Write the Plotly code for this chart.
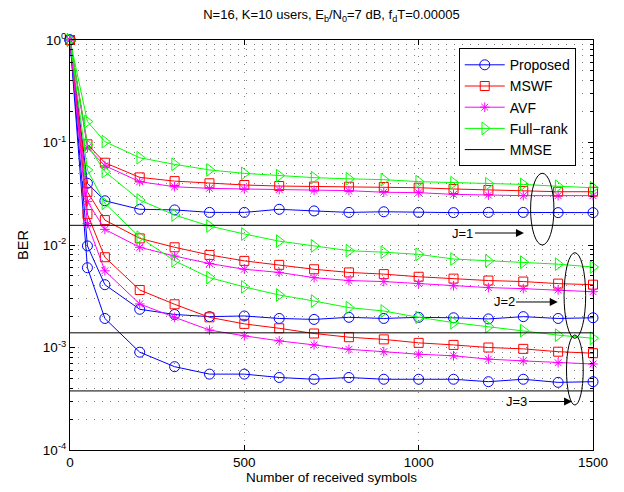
import plotly.graph_objects as go

x = [0, 50, 100, 200, 300, 400, 500, 600, 700, 800, 900, 1000, 1100, 1200, 1300, 1400, 1500]

# J = 1
prop1 = [1.0, 0.040, 0.027, 0.0223, 0.022, 0.0208, 0.0208, 0.0223, 0.0215, 0.0208, 0.0211, 0.0208, 0.0207, 0.0208, 0.0208, 0.0207, 0.0207]
mswf1 = [1.0, 0.096, 0.0635, 0.0457, 0.042, 0.040, 0.0385, 0.0376, 0.0372, 0.037, 0.0368, 0.0362, 0.0352, 0.0344, 0.0336, 0.0331, 0.0331]
avf1 = [1.0, 0.089, 0.0594, 0.0415, 0.037, 0.0357, 0.0352, 0.0347, 0.0341, 0.0339, 0.0327, 0.0324, 0.0312, 0.0307, 0.0303, 0.0303, 0.0303]
fr1 = [1.0, 0.16, 0.102, 0.071, 0.0612, 0.054, 0.050, 0.0475, 0.0454, 0.0442, 0.0434, 0.0415, 0.0405, 0.0396, 0.039, 0.0374, 0.0362]

# J = 2
prop2 = [1.0, 0.0098, 0.0041, 0.00236, 0.0021, 0.0020, 0.00203, 0.00192, 0.00188, 0.00197, 0.00192, 0.00197, 0.00195, 0.0019, 0.0020, 0.00192, 0.00195]
mswf2 = [1.0, 0.033, 0.0175, 0.0116, 0.0095, 0.008, 0.0070, 0.0064, 0.0058, 0.0054, 0.0052, 0.0049, 0.0047, 0.0045, 0.0044, 0.0042, 0.0041]
avf2 = [1.0, 0.0265, 0.0142, 0.0095, 0.0078, 0.0066, 0.0058, 0.0054, 0.0048, 0.0045, 0.0044, 0.0042, 0.0040, 0.00384, 0.00375, 0.00364, 0.0035]
fr2 = [1.0, 0.095, 0.052, 0.0275, 0.0196, 0.0153, 0.0128, 0.0109, 0.0098, 0.0088, 0.0085, 0.0081, 0.0073, 0.0070, 0.0068, 0.0065, 0.0061]

# J = 3
prop3 = [1.0, 0.006, 0.00192, 0.0009, 0.00065, 0.00055, 0.00055, 0.00051, 0.00049, 0.00051, 0.00049, 0.00049, 0.00049, 0.000464, 0.00049, 0.000457, 0.000464]
mswf3 = [1.0, 0.020, 0.0076, 0.00364, 0.00264, 0.00197, 0.0017, 0.00154, 0.00137, 0.00126, 0.0012, 0.00111, 0.00106, 0.0010, 0.00097, 0.00091, 0.00088]
avf3 = [1.0, 0.0162, 0.0056, 0.00266, 0.00197, 0.00148, 0.0013, 0.00116, 0.00106, 0.00096, 0.00091, 0.00086, 0.00083, 0.00077, 0.00074, 0.00071, 0.00069]
fr3 = [1.0, 0.054, 0.0255, 0.0119, 0.0070, 0.0048, 0.0039, 0.00325, 0.00284, 0.00245, 0.00227, 0.00197, 0.00175, 0.0016, 0.00146, 0.00132, 0.00123]

mmse = [0.01556, 0.00139, 0.000377]
mmse_x = [0, 1500]

x_ticks = [0, 500, 1000, 1500]
y_ticks = [1e-4, 1e-3, 1e-2, 1e-1, 1]
y_ticktext = ["10<sup>-4</sup>", "10<sup>-3</sup>", "10<sup>-2</sup>", "10<sup>-1</sup>", "10<sup>0</sup>"]
j_labels = ["J=1", "J=2", "J=3"]

FONT = "Liberation Sans, Arial, sans-serif"
Y_MIN_LOG, Y_MAX_LOG = -4, 0

styles = {
    "Proposed": dict(color="#0000ff", symbol="circle-open", size=10),
    "MSWF": dict(color="#ff0000", symbol="square-open", size=9),
    "AVF": dict(color="#ff00ff", symbol="asterisk-open", size=8),
    "Full\u2212rank": dict(color="#00ff00", symbol="triangle-right-open", size=11),
}

groups = [
    {"Proposed": prop1, "MSWF": mswf1, "AVF": avf1, "Full\u2212rank": fr1},
    {"Proposed": prop2, "MSWF": mswf2, "AVF": avf2, "Full\u2212rank": fr2},
    {"Proposed": prop3, "MSWF": mswf3, "AVF": avf3, "Full\u2212rank": fr3},
]

fig = go.Figure()

for gi, grp in enumerate(groups):
    for name, vals in grp.items():
        st = styles[name]
        fig.add_trace(go.Scatter(
            x=x, y=vals, mode="lines+markers", name=name,
            legendgroup=name, showlegend=(gi == 0),
            line=dict(color=st["color"], width=1),
            marker=dict(symbol=st["symbol"], size=st["size"], color=st["color"],
                        line=dict(color=st["color"], width=1)),
            cliponaxis=False,
        ))

for mi, m in enumerate(mmse):
    fig.add_trace(go.Scatter(
        x=mmse_x, y=[m, m], mode="lines", name="MMSE",
        legendgroup="MMSE", showlegend=(mi == 0),
        line=dict(color="black", width=1),
    ))

# minor log ticks
minor_vals = []
for d in range(-4, 0):
    for k in range(2, 10):
        minor_vals.append(k * 10 ** d)


def log_to_paper(v):
    return (v - Y_MIN_LOG) / (Y_MAX_LOG - Y_MIN_LOG)


# ellipses (x in data, y given in log10 units, converted to paper)
ellipses = [
    (1321, 1388, -2.0, -1.30),
    (1417, 1479, -2.91, -2.075),
    (1424, 1472, -3.561, -2.878),
]
for (x0, x1, y0, y1) in ellipses:
    fig.add_shape(type="circle", xref="x", yref="paper", x0=x0, x1=x1,
                  y0=log_to_paper(y0), y1=log_to_paper(y1),
                  line=dict(color="black", width=1), layer="above")

# arrows with labels at their tails (tip x, label centre x, y in log10 units)
arrows = [
    (1302, 1127, -1.883),
    (1399, 1245, -2.556),
    (1440, 1282, -3.527),
]
for lbl, (hx, lx, ly) in zip(j_labels, arrows):
    fig.add_annotation(x=hx, y=ly, ax=lx, ay=ly, xref="x", yref="y", axref="x", ayref="y",
                       text=lbl, showarrow=True, arrowhead=2, arrowsize=1.6, arrowwidth=1,
                       arrowcolor="black", standoff=0,
                       font=dict(family=FONT, size=13, color="black"))

axis_common = dict(
    showline=True, linecolor="black", linewidth=1, mirror="allticks",
    ticks="inside", tickcolor="black", ticklen=5,
    tickfont=dict(family=FONT, size=13.5, color="black"),
    zeroline=False, automargin=False,
)

GRID = dict(showgrid=True, gridcolor="rgba(0,0,0,0.5)", griddash="1px,7px", gridwidth=1)

fig.update_xaxes(
    range=[0, 1500], tickvals=x_ticks,
    title=dict(text="Number of received symbols", font=dict(family=FONT, size=13.5, color="black"), standoff=3),
    **GRID, **axis_common,
)
fig.update_yaxes(
    type="log", range=[Y_MIN_LOG, Y_MAX_LOG], tickvals=y_ticks, ticktext=y_ticktext,
    minor=dict(tickvals=minor_vals, ticks="inside", ticklen=3, tickcolor="black", **GRID),
    title=dict(text="BER", font=dict(family=FONT, size=14.5, color="black"), standoff=10),
    **GRID, **axis_common,
)

# the page adds an 8px body margin; the figure is sized so the plot area lands at
# x 70..593 and y 40..450 in the 624x492 window
W, H = 616, 484
fig.update_layout(
    width=W, height=H,
    margin=dict(l=62, r=31, t=32, b=42, autoexpand=False),
    paper_bgcolor="white", plot_bgcolor="white",
    title=dict(text="N=16, K=10 users, E<sub>b</sub>/N<sub>0</sub>=7 dB, f<sub>d</sub>T=0.00005",
               x=(331.5 - 8) / W, xanchor="center", y=1 - 2 / H, yanchor="top",
               font=dict(family=FONT, size=13, color="black"), automargin=False),
    legend=dict(x=0.967, y=0.98, xanchor="right", yanchor="top",
                bgcolor="white", bordercolor="black", borderwidth=1,
                font=dict(family=FONT, size=14, color="black"),
                tracegroupgap=0, itemwidth=40),
    showlegend=True,
)

fig.write_html("out.html")
